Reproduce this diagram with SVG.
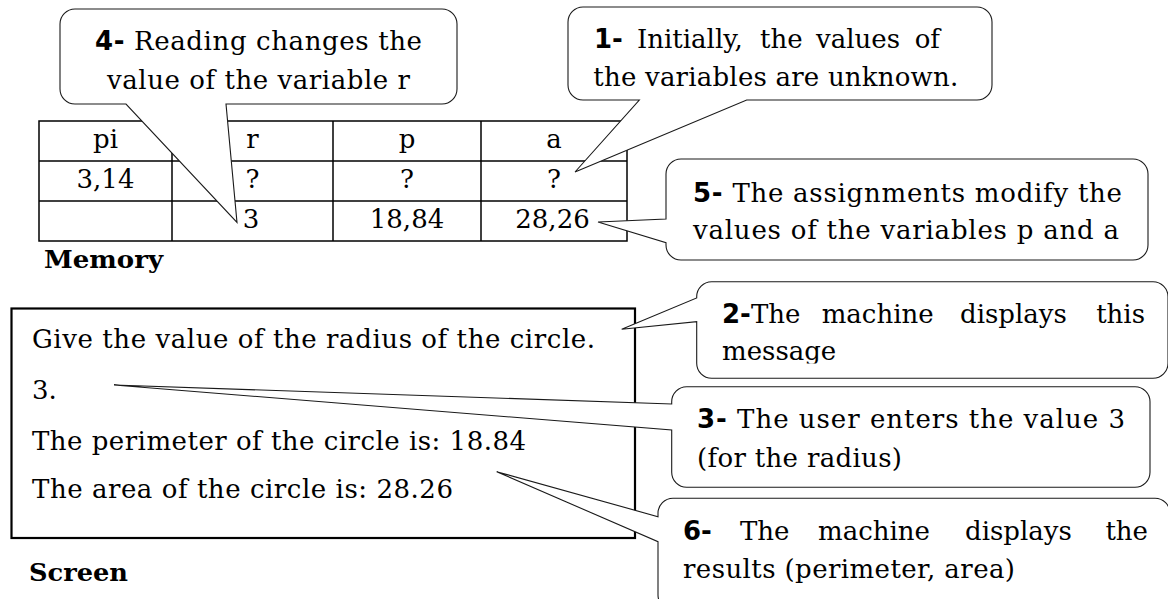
<svg xmlns="http://www.w3.org/2000/svg" width="1168" height="599" viewBox="0 0 1168 599">
<style>
.t{font-family:"DejaVu Serif","Liberation Serif",serif;font-size:26px;fill:#000}
.tc{font-family:"DejaVu Serif","Liberation Serif",serif;font-size:26px;fill:#000;text-anchor:middle}
.hb{font-family:"DejaVu Serif","Liberation Serif",serif;font-size:25px;font-weight:bold;fill:#000}
.b{font-family:"DejaVu Sans","Liberation Sans",sans-serif;font-weight:bold}
.callout{fill:#fff;stroke:#1a1a1a;stroke-width:1.1}
.grid{fill:none;stroke:#000;stroke-width:1.5}
.scr{fill:#fff;stroke:#000;stroke-width:2.2}
</style>
<defs>
<clipPath id="clip2"><rect x="690" y="280" width="478" height="83.5"/></clipPath>
</defs>
<rect width="1168" height="599" fill="#fff"/>

<g id="memory-table">
<rect class="grid" x="39" y="121" width="588" height="120"/>
<line class="grid" x1="39" y1="161" x2="627" y2="161"/>
<line class="grid" x1="39" y1="201" x2="627" y2="201"/>
<line class="grid" x1="172" y1="121" x2="172" y2="241"/>
<line class="grid" x1="333" y1="121" x2="333" y2="241"/>
<line class="grid" x1="481" y1="121" x2="481" y2="241"/>
<text class="tc" x="105.5" y="148">pi</text>
<text class="tc" x="252.5" y="148">r</text>
<text class="tc" x="407" y="148">p</text>
<text class="tc" x="554" y="148">a</text>
<text class="tc" x="105.5" y="188">3,14</text>
<text class="tc" x="252.5" y="188">?</text>
<text class="tc" x="407" y="188">?</text>
<text class="tc" x="554" y="188">?</text>
<text class="tc" x="251" y="228">3</text>
<text class="tc" x="407" y="228">18,84</text>
<text class="tc" x="552.5" y="228">28,26</text>
</g>
<g id="memory-label"><text class="hb" x="44" y="268" textLength="119" lengthAdjust="spacingAndGlyphs">Memory</text></g>

<g id="screen">
<rect class="scr" x="11.5" y="308.5" width="623.5" height="229.5"/>
<text class="t" x="32" y="348.3" textLength="563" lengthAdjust="spacing">Give the value of the radius of the circle.</text>
<text class="t" x="32" y="399.3">3.</text>
<text class="t" x="32" y="450" textLength="494" lengthAdjust="spacing">The perimeter of the circle is: 18.84</text>
<text class="t" x="32" y="498.3" textLength="421" lengthAdjust="spacing">The area of the circle is: 28.26</text>
</g>
<g id="screen-label"><text class="hb" x="29" y="580.7" textLength="99" lengthAdjust="spacingAndGlyphs">Screen</text></g>

<g id="callout-4">
<path class="callout" d="M75,9 H442 A15,15 0 0 1 457,24 V89 A15,15 0 0 1 442,104 H226 L237,222.5 L126,104 H75 A15,15 0 0 1 60,89 V24 A15,15 0 0 1 75,9 Z"/>
<text class="t" x="95" y="50" textLength="327" lengthAdjust="spacing"><tspan class="b">4-</tspan> Reading changes the</text>
<text class="t" x="107" y="89" textLength="303" lengthAdjust="spacing">value of the variable r</text>
</g>

<g id="callout-1">
<path class="callout" d="M583,7 H977 A15,15 0 0 1 992,22 V85 A15,15 0 0 1 977,100 H746.7 L575,172 L639.3,100 H583 A15,15 0 0 1 568,85 V22 A15,15 0 0 1 583,7 Z"/>
<text class="t" y="48"><tspan class="b" x="594">1-</tspan><tspan x="637">Initially,</tspan><tspan x="760">the</tspan><tspan x="816">values</tspan><tspan x="940" text-anchor="end">of</tspan></text>
<text class="t" x="593.3" y="86" textLength="365" lengthAdjust="spacing">the variables are unknown.</text>
</g>

<g id="callout-5">
<path class="callout" d="M681,159 H1133 A15,15 0 0 1 1148,174 V245 A15,15 0 0 1 1133,260 H681 A15,15 0 0 1 666,245 V242.7 L598,222 L666,219 V174 A15,15 0 0 1 681,159 Z"/>
<text class="t" x="693" y="201.7" textLength="429" lengthAdjust="spacing"><tspan class="b">5-</tspan> The assignments modify the</text>
<text class="t" x="693" y="239.3" textLength="426" lengthAdjust="spacing">values of the variables p and a</text>
</g>

<g id="callout-2">
<path class="callout" d="M711.7,281.7 H1153 A15,15 0 0 1 1168,296.7 V363.3 A15,15 0 0 1 1153,378.3 H711.7 A15,15 0 0 1 696.7,363.3 V321.7 L621.7,329.3 L696.7,298 V296.7 A15,15 0 0 1 711.7,281.7 Z"/>
<text class="t" y="322.7"><tspan class="b" x="722">2-</tspan><tspan>The</tspan><tspan x="821.7">machine</tspan><tspan x="960">displays</tspan><tspan x="1145" text-anchor="end">this</tspan></text>
<text class="t" x="722" y="360" clip-path="url(#clip2)">message</text>
</g>

<g id="callout-3">
<path class="callout" d="M686.7,386.7 H1135 A15,15 0 0 1 1150,401.7 V472.3 A15,15 0 0 1 1135,487.3 H686.7 A15,15 0 0 1 671.7,472.3 V430 L114,385 L671.7,404 V401.7 A15,15 0 0 1 686.7,386.7 Z"/>
<text class="t" x="697" y="428.3" textLength="428" lengthAdjust="spacing"><tspan class="b">3-</tspan> The user enters the value 3</text>
<text class="t" x="697" y="466.7" textLength="205" lengthAdjust="spacing">(for the radius)</text>
</g>

<g id="callout-6">
<path class="callout" d="M673,498.3 H1155 A15,15 0 0 1 1170,513.3 V595 A15,15 0 0 1 1155,610 H673 A15,15 0 0 1 658,595 V541.7 L496.7,471.7 L658,516.7 V513.3 A15,15 0 0 1 673,498.3 Z"/>
<text class="t" y="540"><tspan class="b" x="683">6-</tspan><tspan x="740">The</tspan><tspan x="818">machine</tspan><tspan x="965">displays</tspan><tspan x="1148" text-anchor="end">the</tspan></text>
<text class="t" x="683" y="578.3" textLength="332" lengthAdjust="spacing">results (perimeter, area)</text>
</g>
</svg>
